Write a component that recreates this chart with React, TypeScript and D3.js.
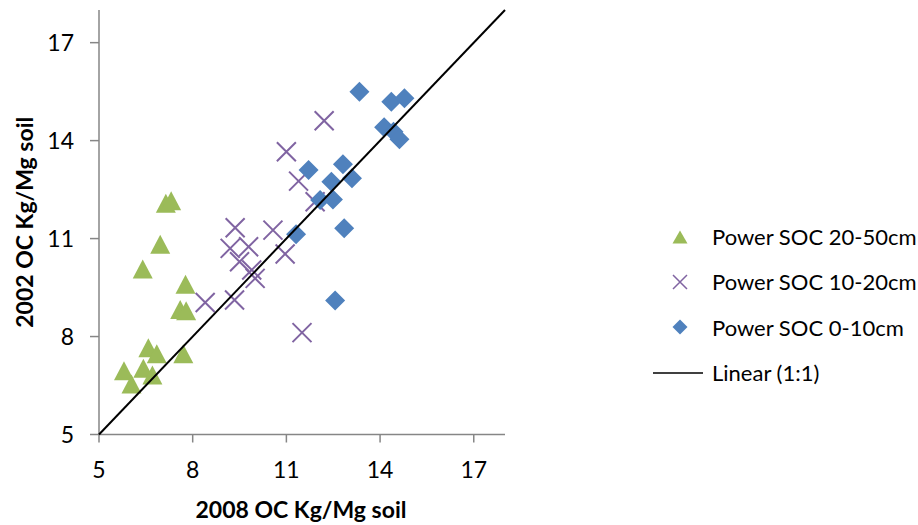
import React from "react";
import * as d3 from "d3";

// 2008 (x) vs 2002 (y) organic carbon
const soc2050x = [7.14, 7.31, 6.96, 6.4, 7.77, 7.6, 7.79, 6.58, 6.85, 7.7, 5.8, 6.42, 6.71, 6.04];
const soc2050y = [12.08, 12.16, 10.83, 10.07, 9.6, 8.83, 8.79, 7.66, 7.47, 7.47, 6.95, 7.03, 6.82, 6.55];

const soc1020x = [8.4, 9.34, 9.36, 9.2, 9.79, 9.5, 9.89, 10.0, 10.57, 10.96, 11.0, 11.39, 11.92, 12.21, 11.5];
const soc1020y = [9.04, 9.12, 11.33, 10.7, 10.75, 10.29, 10.04, 9.78, 11.26, 10.53, 13.66, 12.76, 12.13, 14.61, 8.12];

const soc010x = [13.34, 14.36, 14.78, 14.13, 14.43, 14.62, 11.71, 12.81, 13.1, 12.44, 12.08, 12.49, 12.85, 11.31, 12.56];
const soc010y = [15.5, 15.19, 15.3, 14.41, 14.27, 14.04, 13.1, 13.28, 12.85, 12.74, 12.18, 12.2, 11.32, 11.13, 9.1];

const ticks = [5, 8, 11, 14, 17];
const legendLabels = ["Power SOC 20-50cm", "Power SOC 10-20cm", "Power SOC 0-10cm", "Linear (1:1)"];

const GREEN = "#9bbb59";
const PURPLE = "#8064a2";
const BLUE = "#4f81bd";
const AXIS = "#868686";
const FONT = "Lato, 'Open Sans', sans-serif";

const tri = (w: number, h: number) => `M0,${-h / 2}L${w / 2},${h / 2}L${-w / 2},${h / 2}Z`;
const diamond = (r: number) => `M0,${-r}L${r},0L0,${r}L${-r},0Z`;
const cross = (r: number) => `M${-r},${-r}L${r},${r}M${-r},${r}L${r},${-r}`;

export default function App() {
  const x = d3.scaleLinear().domain([5, 18]).range([99, 505]);
  const y = d3.scaleLinear().domain([5, 18]).range([434.5, 10]);
  const line = d3.line<number>().x((d) => x(d)).y((d) => y(d));

  return (
    <svg
      width={918}
      height={525}
      style={{ position: "absolute", left: 0, top: 0, background: "#fff" }}
      fontFamily={FONT}
    >
      {/* axes */}
      <line x1={x(5)} x2={x(18)} y1={y(5)} y2={y(5)} stroke={AXIS} strokeWidth={1.5} />
      <line x1={x(5)} x2={x(5)} y1={y(5)} y2={y(18)} stroke={AXIS} strokeWidth={1.5} />
      {ticks.map((t) => (
        <g key={"x" + t}>
          <line x1={x(t)} x2={x(t)} y1={y(5)} y2={y(5) + 8} stroke={AXIS} strokeWidth={1.5} />
          <text x={x(t)} y={478} textAnchor="middle" fontSize={23} fill="#000">
            {t}
          </text>
        </g>
      ))}
      {ticks.map((t) => (
        <g key={"y" + t}>
          <line x1={x(5) - 9} x2={x(5)} y1={y(t)} y2={y(t)} stroke={AXIS} strokeWidth={1.5} />
          <text x={74} y={y(t)} dy="0.36em" textAnchor="end" fontSize={23} fill="#000">
            {t}
          </text>
        </g>
      ))}
      <text x={301} y={518} textAnchor="middle" fontSize={23} fontWeight="bold" fill="#000">
        2008 OC Kg/Mg soil
      </text>
      <text
        transform={`translate(33,${(y(5) + y(18)) / 2}) rotate(-90)`}
        textAnchor="middle"
        fontSize={23}
        fontWeight="bold"
        fill="#000"
      >
        2002 OC Kg/Mg soil
      </text>

      {/* series */}
      {soc2050x.map((v, i) => (
        <path key={"t" + i} d={tri(20, 19)} transform={`translate(${x(v)},${y(soc2050y[i])})`} fill={GREEN} />
      ))}
      {soc1020x.map((v, i) => (
        <path
          key={"c" + i}
          d={cross(9.5)}
          transform={`translate(${x(v)},${y(soc1020y[i])})`}
          stroke={PURPLE}
          strokeWidth={2}
          fill="none"
        />
      ))}
      {soc010x.map((v, i) => (
        <path key={"d" + i} d={diamond(10)} transform={`translate(${x(v)},${y(soc010y[i])})`} fill={BLUE} />
      ))}
      <path d={line([5, 18]) || ""} stroke="#000" strokeWidth={2} fill="none" />

      {/* legend */}
      <g transform="translate(680,237)">
        <path d={tri(15, 13)} fill={GREEN} />
      </g>
      <g transform="translate(680,282)">
        <path d={cross(7)} stroke={PURPLE} strokeWidth={1.5} fill="none" />
      </g>
      <g transform="translate(680,327)">
        <path d={diamond(7.5)} fill={BLUE} />
      </g>
      <line x1={653} x2={703} y1={373} y2={373} stroke="#000" strokeWidth={1.5} />
      {legendLabels.map((l, i) => (
        <text key={l} x={712} y={237 + i * 45.3} dy="0.36em" fontSize={22} fill="#000">
          {l}
        </text>
      ))}
    </svg>
  );
}
